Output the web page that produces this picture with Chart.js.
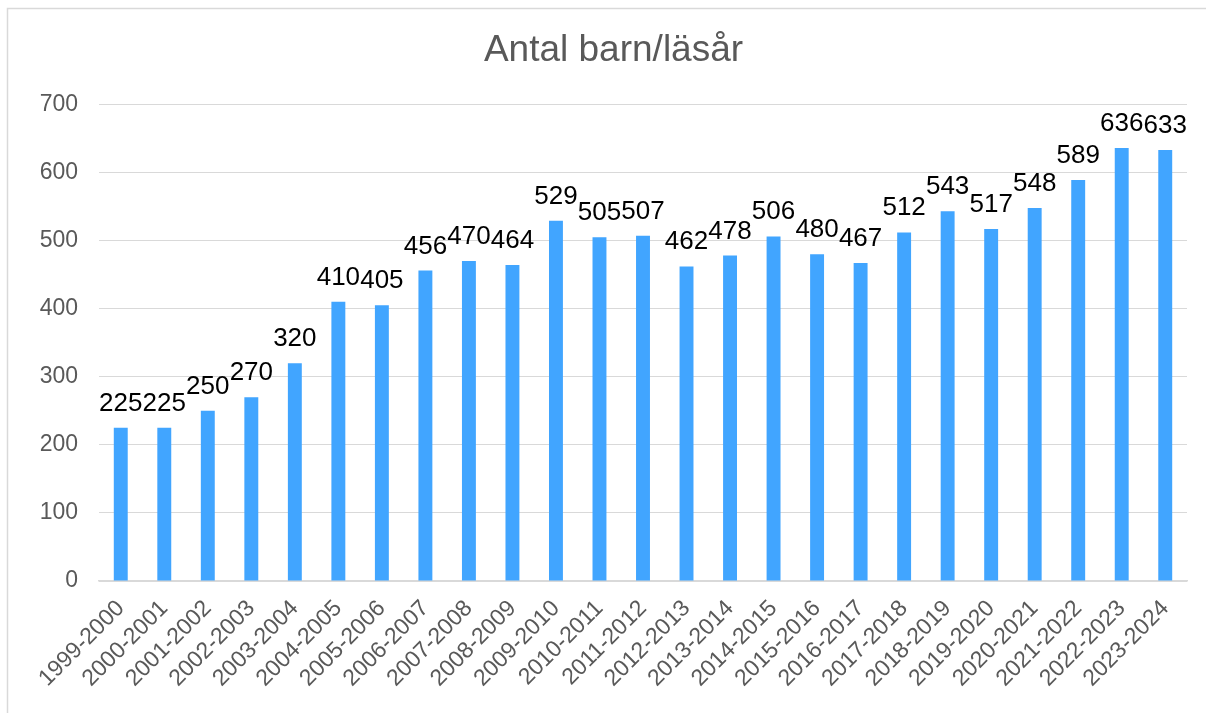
<!DOCTYPE html>
<html>
<head>
<meta charset="utf-8">
<script src="https://cdn.jsdelivr.net/npm/chart.js@4.4.1/dist/chart.umd.min.js"></script>
<style>
  html, body { margin: 0; padding: 0; background: #ffffff; }
  #wrap { position: relative; width: 1206px; height: 713px; }
</style>
</head>
<body>
<div id="wrap"><canvas id="c" width="1206" height="713"></canvas></div>
<script>
const chartTitle = "Antal barn/läsår";
const categories = ["1999-2000","2000-2001","2001-2002","2002-2003","2003-2004","2004-2005","2005-2006","2006-2007","2007-2008","2008-2009","2009-2010","2010-2011","2011-2012","2012-2013","2013-2014","2014-2015","2015-2016","2016-2017","2017-2018","2018-2019","2019-2020","2020-2021","2021-2022","2022-2023","2023-2024"];
const values = [225,225,250,270,320,410,405,456,470,464,529,505,507,462,478,506,480,467,512,543,517,548,589,636,633];
const yMin = 0, yMax = 700, yStep = 100;

const FONT = '"Liberation Sans", Arial, sans-serif';

const frame = {
  id: 'frame',
  beforeDraw(chart) {
    const ctx = chart.ctx;
    ctx.save();
    ctx.strokeStyle = '#d9d9d9';
    ctx.lineWidth = 1.5;
    ctx.beginPath();
    ctx.moveTo(7.5, 713);
    ctx.lineTo(7.5, 8.5);
    ctx.lineTo(1206, 8.5);
    ctx.stroke();
    ctx.restore();
  }
};

const valueLabels = {
  id: 'valueLabels',
  afterDatasetsDraw(chart) {
    const ctx = chart.ctx;
    const meta = chart.getDatasetMeta(0);
    ctx.save();
    ctx.font = '26px ' + FONT;
    ctx.fillStyle = '#000000';
    ctx.textAlign = 'center';
    ctx.textBaseline = 'alphabetic';
    meta.data.forEach((bar, i) => {
      ctx.fillText(String(values[i]), bar.x, bar.y - 17);
    });
    ctx.restore();
  }
};

new Chart(document.getElementById('c'), {
  type: 'bar',
  data: {
    labels: categories,
    datasets: [{
      data: values,
      backgroundColor: '#41A5FF',
      borderWidth: 0,
      barPercentage: 0.32,
      categoryPercentage: 1.0
    }]
  },
  options: {
    responsive: false,
    animation: false,
    layout: { padding: { left: 40, right: 19, top: 10, bottom: 0 } },
    plugins: {
      legend: { display: false },
      tooltip: { enabled: false },
      title: {
        display: true,
        text: chartTitle,
        color: '#595959',
        font: { family: FONT, size: 37, weight: 'normal' },
        padding: { top: 19, bottom: 31 }
      }
    },
    scales: {
      x: {
        grid: { display: false, drawTicks: false },
        border: { display: true, color: '#d9d9d9', width: 1.5 },
        ticks: {
          color: '#595959',
          font: { family: FONT, size: 23 },
          maxRotation: 45,
          minRotation: 45,
          padding: 14,
          autoSkip: false
        },
        afterFit(scale) { scale.height = 132; }
      },
      y: {
        min: yMin,
        max: yMax,
        grid: { color: '#d9d9d9', lineWidth: 1, drawTicks: false },
        border: { display: false },
        ticks: {
          stepSize: yStep,
          color: '#595959',
          font: { family: FONT, size: 23 },
          padding: 21
        },
        afterFit(scale) { scale.width = 59; }
      }
    }
  },
  plugins: [frame, valueLabels]
});
</script>
</body>
</html>
